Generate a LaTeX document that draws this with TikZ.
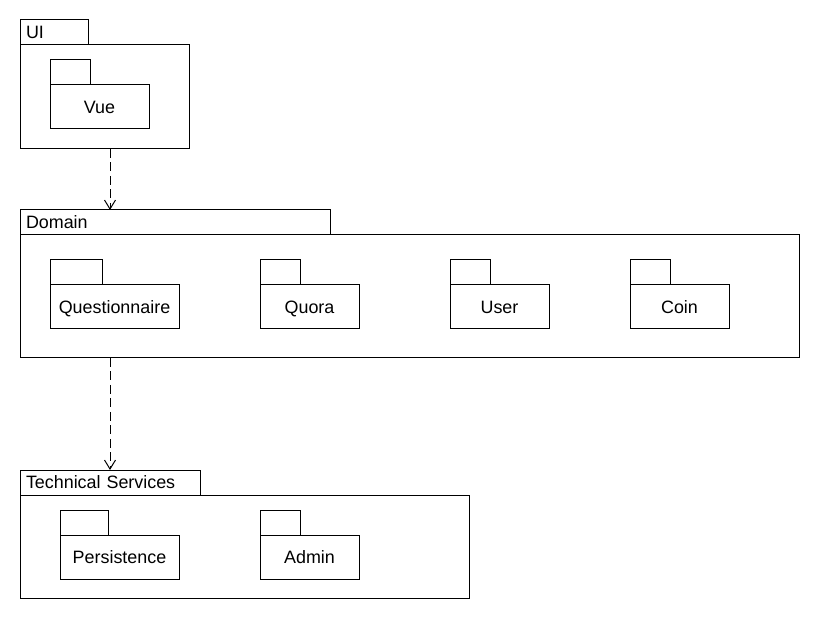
\documentclass[tikz,border=0pt]{standalone}
\usepackage{fontspec}
\setmainfont{Liberation Sans}
\usetikzlibrary{arrows.meta,positioning}

\begin{document}
\begin{tikzpicture}[
    x=1pt, y=-1pt,
    font=\fontsize{17.9}{20}\selectfont,
    every node/.style={draw, line width=1pt, inner sep=0pt, outer sep=0pt,
        text height=12.8pt, text depth=0pt, anchor=north west},
    tab/.style={minimum height=25pt, text width=#1, align=left, inner xsep=6pt},
    pkg/.style={minimum height=#1},
    subtab/.style={minimum width=#1, minimum height=25pt, anchor=south west},
    sub/.style={minimum width=#1, minimum height=44pt},
    dep/.style={draw, line width=1pt, dash pattern=on 9pt off 4.5pt,
        -{Straight Barb[length=9pt,width=11pt,line width=1pt]}}
]
    \useasboundingbox (0,0) rectangle (820,620);

    % UI layer
    \node[tab=56pt] (uitab) at (20,20) {UI};
    \node[pkg=104pt, minimum width=169pt] (uibody) at (20,45) {};
    \node[sub=99pt] (vue) at (50,85) {Vue};
    \node[subtab=40pt] (vuetab) at (vue.north west) {};

    % Domain layer
    \node[tab=298pt] (domtab) at (20,210) {Domain};
    \node[pkg=123pt, minimum width=779pt] (dombody) at (20,235) {};
    \node[sub=129pt] (quest) at (50,285) {Questionnaire};
    \node[subtab=52pt] (questtab) at (quest.north west) {};
    \node[sub=99pt] (quora) at (260,285) {Quora};
    \node[subtab=40pt] (quoratab) at (quora.north west) {};
    \node[sub=99pt] (user) at (450,285) {User};
    \node[subtab=40pt] (usertab) at (user.north west) {};
    \node[sub=99pt] (coin) at (630,285) {Coin};
    \node[subtab=40pt] (cointab) at (coin.north west) {};

    % Technical Services layer
    \node[tab=168pt] (techtab) at (20,470) {Technical Services};
    \node[pkg=103pt, minimum width=449pt] (techbody) at (20,495) {};
    \node[sub=119pt] (persist) at (60,535) {Persistence};
    \node[subtab=48pt] (persisttab) at (persist.north west) {};
    \node[sub=99pt] (admin) at (260,535) {Admin};
    \node[subtab=40pt] (admintab) at (admin.north west) {};

    % dependencies
    \draw[dep] ([xshift=90pt]uibody.south west) -- ([xshift=90pt]domtab.north west);
    \draw[dep] ([xshift=90pt]dombody.south west) -- ([xshift=90pt]techtab.north west);
\end{tikzpicture}
\end{document}
